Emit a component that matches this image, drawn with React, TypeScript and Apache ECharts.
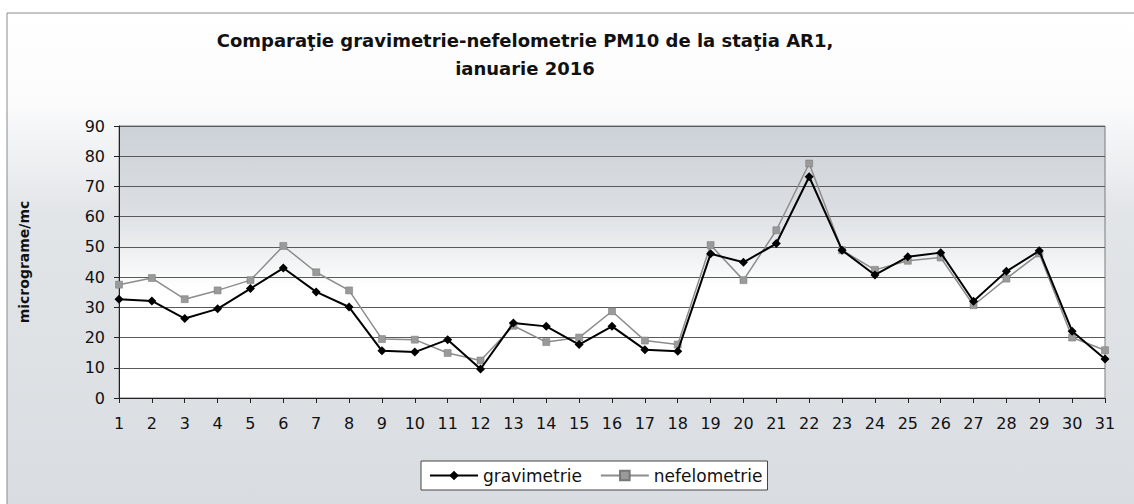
import React, { useEffect, useRef } from "react";
import * as echarts from "echarts";

const days = ["1","2","3","4","5","6","7","8","9","10","11","12","13","14","15","16","17","18","19","20","21","22","23","24","25","26","27","28","29","30","31"];
const gravimetrie = [32.7, 32.1, 26.3, 29.5, 36.2, 43.0, 35.1, 30.1, 15.6, 15.2, 19.3, 9.6, 24.8, 23.7, 17.7, 23.7, 16.0, 15.5, 47.7, 44.9, 51.1, 73.2, 48.9, 40.7, 46.7, 48.1, 32.0, 41.9, 48.7, 22.1, 12.9];
const nefelometrie = [37.5, 39.7, 32.7, 35.6, 39.0, 50.3, 41.6, 35.6, 19.5, 19.3, 14.9, 12.4, 23.9, 18.5, 20.0, 28.7, 19.0, 17.7, 50.6, 39.0, 55.5, 77.6, 48.9, 42.4, 45.4, 46.5, 30.7, 39.5, 47.8, 20.0, 15.8];
const titleText = "Comparaţie gravimetrie-nefelometrie PM10 de la staţia AR1,\nianuarie 2016";
const yAxisName = "micrograme/mc";

const FONT = "'DejaVu Sans', 'Liberation Sans', Arial, sans-serif";

export default function App() {
  const ref = useRef<HTMLDivElement>(null);
  useEffect(() => {
    document.body.style.margin = "0";
    const chart = echarts.init(ref.current!, null, { renderer: "svg" });
    chart.setOption({
      animation: false,
      backgroundColor: "#ffffff",
      graphic: [
        {
          type: "rect",
          z: -10,
          shape: { x: 7, y: 13, width: 1140, height: 500 },
          style: {
            stroke: "#8a8a8a",
            lineWidth: 1,
            fill: new echarts.graphic.LinearGradient(0, 0, 0, 1, [
              { offset: 0, color: "#ffffff" },
              { offset: 0.18, color: "#fbfbfc" },
              { offset: 0.4, color: "#e2e5e8" },
              { offset: 1, color: "#d9dde1" },
            ]),
          },
        },
      ],
      title: {
        text: titleText,
        left: 520,
        top: 21,
        textAlign: "center",
        textStyle: {
          fontFamily: FONT,
          fontSize: 18,
          fontWeight: "bold",
          color: "#111",
          lineHeight: 28,
        },
      },
      grid: {
        left: 119,
        right: 29,
        top: 126,
        bottom: 106,
        show: true,
        borderColor: "#7a7a7a",
        borderWidth: 1,
        backgroundColor: new echarts.graphic.LinearGradient(0, 0, 0, 1, [
          { offset: 0, color: "#cdd2d8" },
          { offset: 0.3, color: "#dadee2" },
          { offset: 0.5, color: "#f3f4f5" },
          { offset: 0.6, color: "#ffffff" },
          { offset: 1, color: "#ffffff" },
        ]),
      },
      legend: {
        data: ["gravimetrie", "nefelometrie"],
        left: 421,
        top: 461,
        padding: [6, 5, 6, 8],
        itemWidth: 48,
        itemHeight: 12,
        itemGap: 18,
        borderColor: "#444",
        borderWidth: 1,
        backgroundColor: "#ffffff",
        textStyle: { fontFamily: FONT, fontSize: 17, color: "#111" },
      },
      xAxis: {
        type: "category",
        data: days,
        boundaryGap: false,
        axisLine: { lineStyle: { color: "#222", width: 1 } },
        axisTick: { show: true, length: 5, lineStyle: { color: "#222" } },
        axisLabel: { fontFamily: FONT, fontSize: 16, color: "#111", margin: 17, interval: 0 },
        splitLine: { show: false },
      },
      yAxis: {
        type: "value",
        min: 0,
        max: 90,
        interval: 10,
        name: yAxisName,
        nameLocation: "middle",
        nameGap: 88,
        nameRotate: 90,
        nameTextStyle: { fontFamily: FONT, fontSize: 14, fontWeight: "bold", color: "#111" },
        axisLine: { show: true, lineStyle: { color: "#222", width: 1 } },
        axisTick: { show: true, length: 5, lineStyle: { color: "#222" } },
        axisLabel: { fontFamily: FONT, fontSize: 16, color: "#111", margin: 14 },
        splitLine: { show: true, lineStyle: { color: "#5a5a5a", width: 1 } },
      },
      series: [
        {
          name: "nefelometrie",
          type: "line",
          data: nefelometrie,
          symbol: "rect",
          symbolSize: 7,
          lineStyle: { color: "#8c8c8c", width: 1.5 },
          itemStyle: { color: "#9a9a9a", borderColor: "#777", borderWidth: 0.5 },
          z: 2,
        },
        {
          name: "gravimetrie",
          type: "line",
          data: gravimetrie,
          symbol: "diamond",
          symbolSize: 9,
          lineStyle: { color: "#000", width: 2 },
          itemStyle: { color: "#000" },
          z: 3,
        },
      ],
    });
    return () => chart.dispose();
  }, []);
  return <div ref={ref} style={{ width: 1134, height: 504 }} />;
}
